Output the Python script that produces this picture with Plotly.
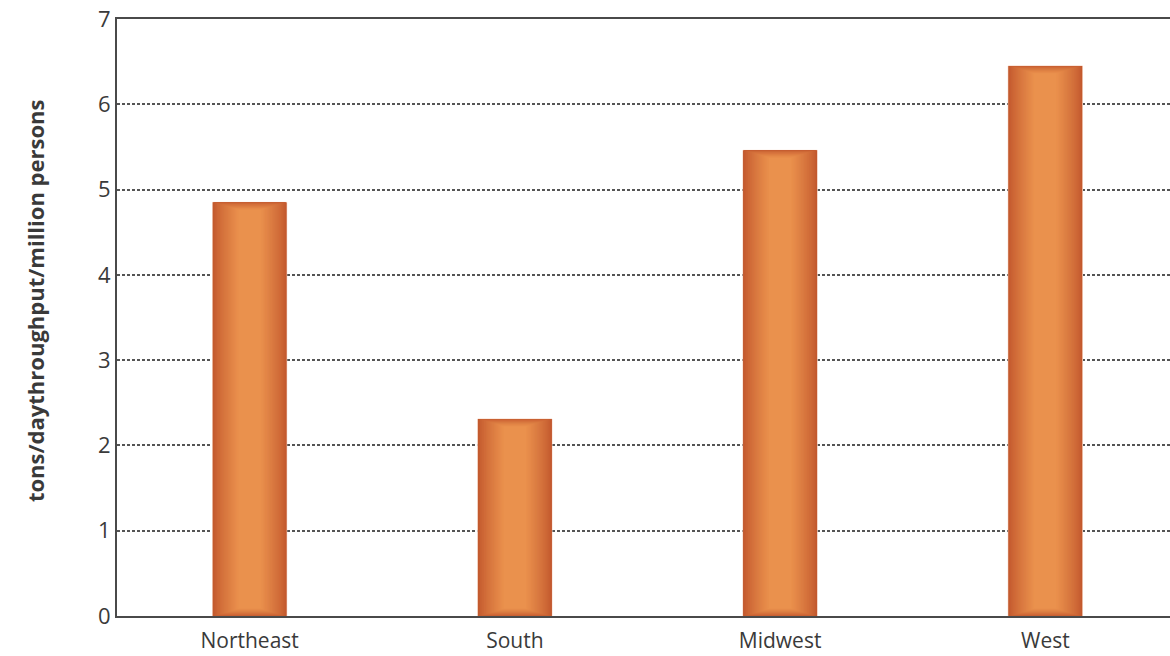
import plotly.graph_objects as go

categories = ["Northeast", "South", "Midwest", "West"]
values = [4.85, 2.31, 5.46, 6.45]
y_ticks = [0, 1, 2, 3, 4, 5, 6, 7]

DARK = (193, 86, 45)
LIGHT = (234, 145, 77)
N_LAYERS = 40
BAR_W = 0.28


def lerp(a, b, t):
    return tuple(int(round(a[i] + (b[i] - a[i]) * t)) for i in range(3))


fig = go.Figure()
for k in range(N_LAYERS):
    t = k / (N_LAYERS - 1)
    col = "rgb(%d,%d,%d)" % lerp(DARK, LIGHT, t)
    w = BAR_W * (1 - 0.7 * t ** 1.3)
    inset = 0.09 * t ** 1.6
    fig.add_trace(go.Bar(
        x=categories,
        y=[v - 2 * inset for v in values],
        base=[inset] * len(values),
        width=w,
        marker=dict(color=col,
                    line=dict(color="#F7D9C9" if k == 0 else col, width=1 if k == 0 else 0)),
        hoverinfo="skip",
        showlegend=False,
    ))

fig.update_layout(
    width=1170, height=656,
    barmode="overlay",
    plot_bgcolor="white", paper_bgcolor="white",
    margin=dict(l=117, r=0, t=19, b=40),
    font=dict(family="Open Sans", color="#3a3a3a"),
    showlegend=False,
)
fig.update_xaxes(
    range=[-0.5, 3.47], automargin=False,
    showline=True, linecolor="#4a4a4a", linewidth=2, mirror=True,
    ticks="", showgrid=False, ticklabelstandoff=5,
    tickfont=dict(size=21, color="#3a3a3a"),
)
fig.update_yaxes(
    range=[0, 7], tickvals=y_ticks, automargin=False,
    showline=True, linecolor="#4a4a4a", linewidth=2,
    showgrid=True, gridcolor="#555555", gridwidth=1.5, griddash="3px,2px",
    zeroline=False, ticks="", ticklabeloverflow="allow",
    tickfont=dict(size=22, color="#3a3a3a"),
)
fig.add_annotation(
    text="<b>tons/daythroughput/million persons</b>",
    xref="paper", yref="paper", x=-0.078, y=0.529,
    xanchor="center", yanchor="middle",
    textangle=-90, showarrow=False,
    font=dict(size=22, color="#3a3a3a", family="Open Sans"),
)
fig.write_html(
    "out.html",
    config={"displayModeBar": False},
    post_script="document.body.style.margin='0';document.body.style.overflow='hidden';",
)
